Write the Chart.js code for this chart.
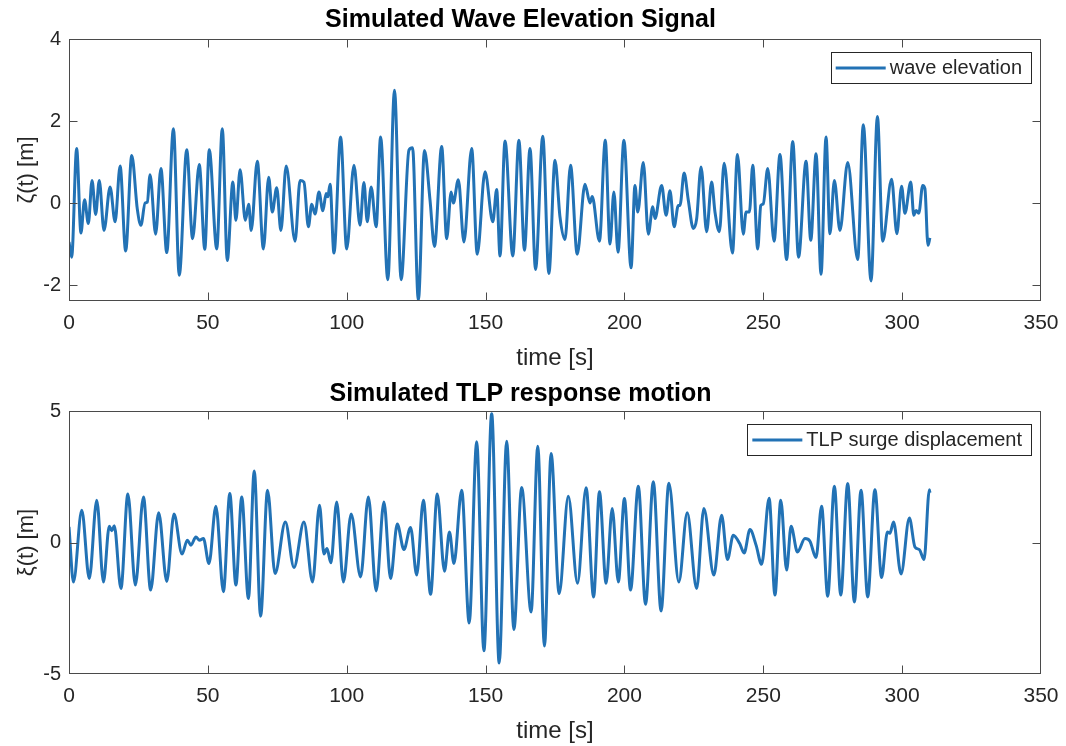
<!DOCTYPE html>
<html>
<head>
<meta charset="utf-8">
<script src="https://cdn.jsdelivr.net/npm/chart.js@4"></script>
<style>
  html, body { margin: 0; padding: 0; background: #ffffff; }
  #wrap { position: relative; width: 1066px; height: 746px; }
  canvas { position: absolute; left: 0; }
  #c1 { top: 0; }
  #c2 { top: 373px; }
</style>
</head>
<body>
<div id="wrap">
  <canvas id="c1" width="1066" height="373"></canvas>
  <canvas id="c2" width="1066" height="373"></canvas>
</div>
<script>
// ---------- data ----------
const waveTime = [0,0.96,2.76,4.3,5.6,6.96,8.3,9.6,10.9,12.6,14.8,16.6,18.4,20.4,22.6,24.6,25.9,27.4,28.2,29.2,31.2,33.1,35.2,37.6,39.7,42.4,44.5,46.9,48.9,50.5,53.2,55.2,57.0,59.0,60.1,61.6,63.5,64.7,65.6,67.8,70.0,71.9,73.2,74.8,76.3,78.2,81.4,83.2,84.6,86.2,87.4,88.6,90.0,91.4,92.6,93.2,94.0,95.4,97.8,100.0,102.6,104.8,106.2,107.4,108.8,110.6,112.2,114.8,117.2,119.6,122.4,123.7,125.8,128.0,130.0,131.6,134.2,136.0,137.6,138.4,140.2,142.2,145.0,147.0,149.8,152.6,154.0,155.2,157.0,159.8,162.0,164.0,166.0,168.0,170.6,172.8,175.0,176.8,178.6,180.6,183.0,185.8,187.6,188.4,191.0,193.1,194.8,196.2,197.7,199.8,202.4,203.8,204.8,206.8,208.6,210.2,211.0,213.4,215.0,216.4,217.9,219.4,220.0,221.5,223.0,224.8,226.0,227.6,229.6,231.4,232.6,234.2,235.9,238.9,240.7,242.8,243.8,245.0,246.2,248.0,249.1,250.0,251.6,253.9,256.0,258.4,260.6,262.7,265.4,267.1,269.0,270.8,272.6,274.0,275.6,277.6,280.4,284.0,286.0,288.8,291.1,293.0,296.2,298.1,299.8,301.0,303.1,304.2,305.0,306.0,307.4,308.2,309.3,310.0];
const waveElevation = [-0.95,-1.32,1.33,-0.73,0.08,-0.50,0.55,-0.28,0.55,-0.67,0.39,-0.46,0.90,-1.17,1.16,-0.15,-0.54,0.0,0.02,0.69,-0.76,0.84,-1.21,1.81,-1.76,1.30,-0.87,0.94,-1.13,1.30,-1.12,1.81,-1.40,0.51,-0.42,0.81,-0.42,-0.03,-0.67,1.02,-1.12,0.63,-0.22,0.37,-0.67,0.90,-0.93,0.55,0.51,-0.58,-0.03,-0.27,0.27,-0.19,0.23,0.15,0.46,-1.22,1.61,-1.12,0.92,-0.54,0.50,-0.46,0.39,-0.58,1.61,-1.87,2.75,-1.87,1.29,1.35,-2.37,1.28,0.07,-1.06,1.38,-0.87,0.27,0.0,0.57,-0.95,1.33,-1.25,0.76,-0.46,0.33,-1.29,1.51,-1.29,1.53,-1.15,1.33,-1.62,1.63,-1.72,1.04,-0.34,-0.89,0.92,-1.25,0.46,0.0,0.16,-0.93,1.53,-1.0,0.27,-1.2,1.53,-1.58,0.43,-0.22,0.99,-0.76,-0.09,-0.38,0.43,-0.30,0.30,-0.58,-0.06,-0.06,0.73,0.07,-0.62,-0.39,0.88,-0.70,0.51,-0.22,-0.70,0.97,-1.22,1.18,-0.76,-0.22,-0.22,0.92,-1.12,-0.06,-0.02,0.84,-0.93,1.18,-1.38,1.50,-1.32,1.02,-0.91,1.20,-1.74,1.61,-0.75,0.55,-0.67,0.99,-1.38,1.91,-1.90,2.11,-0.93,0.58,-0.75,0.41,-0.25,0.51,-0.30,-0.18,-0.25,0.43,0.35,-1.03,-0.85];

const surgeTime = [0,1.6,4.6,7.3,10.0,12.4,14.5,15.4,16.3,18.7,21.2,23.9,26.8,29.4,32.3,35.2,37.8,40.7,42.6,43.9,45.7,47.0,48.4,50.4,52.9,55.6,57.9,60.1,62.2,64.6,66.7,69.0,71.5,74.2,77.9,81.0,84.6,87.7,90.2,91.8,92.9,94.3,96.4,98.8,101.6,105.0,107.8,110.6,113.4,115.8,118.2,120.6,123.0,125.2,127.6,130.2,132.6,135.2,137.0,138.6,141.4,144.1,146.8,149.4,152.2,154.9,157.6,160.2,163.0,166.4,168.8,171.2,173.6,176.5,179.8,183.1,186.2,188.9,191.0,193.4,195.6,197.8,200.0,202.2,205.0,207.6,210.4,213.2,216.0,219.6,222.6,226.0,228.6,232.2,235.0,237.1,239.2,241.5,243.1,245.2,247.4,249.4,252.1,254.2,256.3,258.4,260.0,262.3,265.0,266.8,269.0,271.0,273.2,275.6,277.9,280.4,282.8,285.2,287.6,290.2,292.6,294.7,295.6,296.9,299.6,302.6,304.6,306.2,307.9,309.8,310.0];
const surgeDisplacement = [0.59,-1.50,1.23,-1.37,1.61,-1.50,0.62,0.45,0.64,-1.75,1.84,-1.62,1.73,-1.81,1.13,-1.48,1.08,-0.44,0.09,-0.10,0.21,0.09,0.15,-0.80,1.38,-1.87,1.86,-1.62,1.73,-2.13,2.72,-2.80,1.99,-1.18,0.78,-0.95,0.78,-1.50,1.42,-0.44,-0.23,-0.77,1.54,-1.50,1.08,-1.31,1.73,-1.84,1.54,-1.37,0.70,-0.27,0.57,-1.24,1.61,-1.97,1.84,-1.09,0.40,-0.80,1.99,-3.06,3.83,-4.12,4.90,-4.58,3.85,-3.31,2.09,-2.64,3.66,-3.94,3.38,-1.94,1.76,-1.55,2.08,-2.07,1.93,-1.55,1.29,-1.50,1.67,-1.81,2.14,-2.35,2.31,-2.60,2.25,-1.50,1.13,-1.75,1.29,-1.24,1.04,-0.65,0.28,-0.04,-0.40,0.49,-0.10,-0.83,1.68,-2.0,1.61,-1.05,0.62,-0.36,0.15,0.05,-0.57,1.38,-2.04,2.14,-2.0,2.24,-2.26,1.99,-2.07,2.01,-1.33,0.40,0.35,0.78,-1.20,0.93,-0.17,-0.27,-0.65,2.01,1.89];

const xTicks = [0,50,100,150,200,250,300,350];
const waveYTicks = [-2,0,2,4];
const surgeYTicks = [-5,0,5];
const waveYRange = [-2.39, 4];
const surgeYRange = [-5, 5];

const titles = ['Simulated Wave Elevation Signal', 'Simulated TLP response motion'];
const yLabels = ['\u03B6(t) [m]', '\u03BE(t) [m]'];
const xLabel = 'time [s]';
const legendLabels = ['wave elevation', 'TLP surge displacement'];

// ---------- styling ----------
const FONT = "'Liberation Sans', Arial, Helvetica, sans-serif";
const LINE_COLOR = '#2272b5';
const TEXT_COLOR = '#262626';
const AXIS_COLOR = '#4a4a4a';

const boxPlugin = {
  id: 'boxAxes',
  afterDraw(chart) {
    const { ctx, chartArea: a, scales } = chart;
    const x = scales.x, y = scales.y;
    const L = Math.round(a.left) + 0.5, R = Math.round(a.right) - 0.5;
    const T = Math.round(a.top) + 0.5, B = Math.round(a.bottom) - 0.5;
    ctx.save();
    ctx.strokeStyle = AXIS_COLOR;
    ctx.lineWidth = 1;
    ctx.strokeRect(L, T, R - L, B - T);
    const tl = 8;
    ctx.beginPath();
    x.ticks.forEach(t => {
      let px = Math.round(x.getPixelForValue(t.value)) + 0.5;
      px = Math.min(Math.max(px, L), R);
      ctx.moveTo(px, B); ctx.lineTo(px, B - tl);
      ctx.moveTo(px, T); ctx.lineTo(px, T + tl);
    });
    y.ticks.forEach(t => {
      let py = Math.round(y.getPixelForValue(t.value)) + 0.5;
      py = Math.min(Math.max(py, T), B);
      ctx.moveTo(L, py); ctx.lineTo(L + tl, py);
      ctx.moveTo(R, py); ctx.lineTo(R - tl, py);
    });
    ctx.stroke();

    // legend box inside the axes, top right
    const opts = chart.options.plugins.boxLegend;
    if (opts) {
      ctx.font = '20px ' + FONT;
      const tw = ctx.measureText(opts.text).width;
      const h = 31;
      const w = 5 + 50 + 4 + tw + 9;
      const right = a.right - 10;
      const left = right - w;
      const top = a.top + 13;
      ctx.fillStyle = '#ffffff';
      ctx.fillRect(left, top, w, h);
      ctx.strokeStyle = '#262626';
      ctx.lineWidth = 1;
      ctx.strokeRect(Math.round(left) + 0.5, Math.round(top) + 0.5, Math.round(w), h);
      ctx.strokeStyle = LINE_COLOR;
      ctx.lineWidth = 3;
      ctx.beginPath();
      ctx.moveTo(left + 5, top + h / 2 + 0.5);
      ctx.lineTo(left + 55, top + h / 2 + 0.5);
      ctx.stroke();
      ctx.fillStyle = TEXT_COLOR;
      ctx.textBaseline = 'middle';
      ctx.textAlign = 'left';
      ctx.fillText(opts.text, left + 59, top + h / 2 + 1);
    }
    ctx.restore();
  }
};

function makeChart(canvasId, times, values, yTicks, yRange, title, yLabel, legendText, titlePad) {
  const data = times.map((t, i) => ({ x: t, y: values[i] }));
  return new Chart(document.getElementById(canvasId), {
    type: 'line',
    data: {
      datasets: [{
        label: legendText,
        data: data,
        borderColor: LINE_COLOR,
        borderWidth: 3,
        pointRadius: 0,
        fill: false,
        cubicInterpolationMode: 'monotone'
      }]
    },
    options: {
      responsive: false,
      animation: false,
      events: [],
      layout: { padding: { left: 0, right: 25, top: 0, bottom: 0 } },
      plugins: {
        legend: { display: false },
        tooltip: { enabled: false },
        title: {
          display: true,
          text: title,
          color: '#000000',
          font: { family: FONT, size: 25, weight: 'bold' },
          padding: titlePad
        },
        boxLegend: { text: legendText }
      },
      scales: {
        x: {
          type: 'linear',
          min: 0, max: 350,
          grid: { display: false, drawTicks: false },
          border: { display: false },
          ticks: { color: TEXT_COLOR, font: { family: FONT, size: 21 }, padding: 10, autoSkip: false, maxRotation: 0 },
          afterBuildTicks: s => { s.ticks = xTicks.map(v => ({ value: v })); },
          afterFit: s => { s.height = 72; s.paddingLeft = 0; s.paddingRight = 0; },
          title: { display: true, text: xLabel, color: TEXT_COLOR, font: { family: FONT, size: 24 }, padding: { top: 3, bottom: 0 } }
        },
        y: {
          type: 'linear',
          min: yRange[0], max: yRange[1],
          grid: { display: false, drawTicks: false },
          border: { display: false },
          ticks: { color: TEXT_COLOR, font: { family: FONT, size: 20 }, padding: 8, autoSkip: false },
          afterBuildTicks: s => { s.ticks = yTicks.map(v => ({ value: v })); },
          afterFit: s => { s.width = 69; s.paddingTop = 0; s.paddingBottom = 0; },
          title: { display: true, text: yLabel, color: TEXT_COLOR, font: { family: FONT, size: 22 }, padding: { top: 14, bottom: 0 } }
        }
      }
    },
    plugins: [boxPlugin]
  });
}

makeChart('c1', waveTime, waveElevation, waveYTicks, waveYRange, titles[0], yLabels[0], legendLabels[0], { top: 5, bottom: 4 });
makeChart('c2', surgeTime, surgeDisplacement, surgeYTicks, surgeYRange, titles[1], yLabels[1], legendLabels[1], { top: 6, bottom: 2 });
</script>
</body>
</html>
